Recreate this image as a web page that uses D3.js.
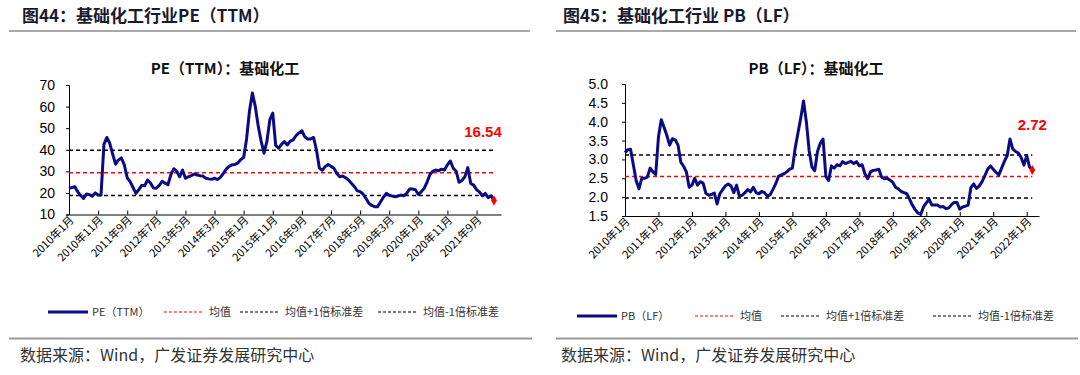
<!DOCTYPE html>
<html>
<head>
<meta charset="utf-8">
<script src="https://cdn.jsdelivr.net/npm/d3@7"></script>
<style>
  body { margin: 0; background: #fff; }
  svg { display: block; font-family: "Liberation Sans", Arial, "Noto Sans CJK SC", sans-serif; }
  .cn { font-family: "Noto Sans CJK SC", sans-serif; }
</style>
</head>
<body>
<svg width="1080" height="375"></svg>
<script>
// monthly values, 2010-01 .. 2022-03
var peValues = [
  22.1, 22.5, 22.9, 20.5, 18.8, 17.4, 19.5, 19.2, 18.5, 20.0,
  19.0, 19.0, 42.5, 45.7, 43.0, 38.0, 33.3, 35.3, 36.2, 33.0,
  27.0, 25.2, 22.5, 19.8, 21.5, 23.5, 23.3, 26.0, 24.6, 22.3,
  22.2, 23.5, 25.4, 24.5, 23.8, 28.5, 31.2, 30.0, 27.5, 30.6,
  26.8, 27.5, 28.0, 28.8, 28.3, 28.0, 27.8, 26.8, 26.5, 26.3,
  26.8, 26.2, 27.2, 29.0, 31.0, 32.3, 33.0, 33.2, 33.8, 35.5,
  36.4, 45.0, 58.0, 66.3, 60.0, 51.0, 44.0, 38.4, 44.0, 54.0,
  57.0, 42.0, 40.7, 42.5, 43.8, 42.2, 44.0, 44.6, 46.6, 47.8,
  48.8, 46.0, 45.0, 45.0, 45.7, 40.0, 31.5, 30.5, 32.2, 33.2,
  32.3, 31.5, 29.0, 27.5, 27.8, 27.0, 26.0, 24.5, 23.0, 21.0,
  20.6, 19.5, 17.5, 15.2, 14.2, 13.6, 13.6, 15.8, 18.0, 19.8,
  18.9, 18.5, 18.2, 18.6, 19.0, 18.7, 19.8, 21.8, 21.8, 21.5,
  19.3, 20.5, 22.1, 25.0, 28.5, 30.1, 30.6, 30.3, 31.0, 30.6,
  33.0, 34.8, 31.4, 30.0, 24.9, 25.8, 27.5, 31.7, 24.4, 23.6,
  21.5, 20.4, 18.7, 19.8, 17.8, 18.6, 16.54
];
var pbValues = [
  3.18, 3.26, 3.27, 2.85, 2.44, 2.22, 2.50, 2.50, 2.53, 2.77,
  2.67, 2.60, 3.60, 4.05, 3.85, 3.64, 3.38, 3.55, 3.52, 3.38,
  2.93, 2.82, 2.67, 2.26, 2.32, 2.50, 2.32, 2.41, 2.37, 2.10,
  2.05, 2.07, 2.11, 1.82, 2.09, 2.20, 2.30, 2.35, 2.30, 2.12,
  2.32, 2.03, 2.05, 2.12, 2.20, 2.14, 2.26, 2.12, 2.09, 2.15,
  2.12, 2.03, 2.06, 2.20, 2.35, 2.55, 2.59, 2.62, 2.67, 2.74,
  2.77, 3.30, 3.70, 4.10, 4.55, 4.00, 3.24, 2.80, 2.70, 3.21,
  3.43, 3.54, 2.55, 2.44, 2.83, 2.77, 2.86, 2.83, 2.94, 2.89,
  2.92, 2.95, 2.89, 2.94, 2.83, 2.86, 2.62, 2.49, 2.67, 2.71,
  2.72, 2.74, 2.53, 2.49, 2.50, 2.45, 2.39, 2.26, 2.22, 2.15,
  2.12, 2.09, 1.95, 1.79, 1.67, 1.58, 1.54, 1.74, 1.85, 1.95,
  1.79, 1.79, 1.79, 1.74, 1.75, 1.70, 1.71, 1.80, 1.86, 1.86,
  1.68, 1.74, 1.76, 1.79, 2.26, 2.35, 2.23, 2.30, 2.41, 2.57,
  2.74, 2.83, 2.74, 2.66, 2.59, 2.77, 2.95, 3.10, 3.54, 3.28,
  3.21, 3.17, 3.05, 2.85, 3.10, 2.80, 2.72
];

// mean -1sd, mean, mean +1sd
var peBands = [18.8, 29.3, 39.8];
var pbBands = [1.98, 2.55, 3.12];

var peYTicks = [10, 20, 30, 40, 50, 60, 70];
var pbYTicks = [1.5, 2.0, 2.5, 3.0, 3.5, 4.0, 4.5, 5.0];

var peTickLabels = ["2010年1月", "2010年11月", "2011年9月", "2012年7月", "2013年5月",
  "2014年3月", "2015年1月", "2015年11月", "2016年9月", "2017年7月", "2018年5月",
  "2019年3月", "2020年1月", "2020年11月", "2021年9月"];
var pbTickLabels = ["2010年1月", "2011年1月", "2012年1月", "2013年1月", "2014年1月",
  "2015年1月", "2016年1月", "2017年1月", "2018年1月", "2019年1月", "2020年1月",
  "2021年1月", "2022年1月"];

var legendLabels = ["均值", "均值+1倍标准差", "均值-1倍标准差"];

var svg = d3.select("svg");

svg.append("rect").attr("width", 1080).attr("height", 375).attr("fill", "#fff");

var drawPanel = function (o) {
  var xScale = d3.scaleLinear().domain([0, 148.4]).range([o.x0, o.x1]);
  var yScale = d3.scaleLinear().domain(o.yDomain).range([o.yB, o.yT]);

  // header + rules
  svg.append("text").attr("class", "cn")
    .attr("x", o.hx).attr("y", 22)
    .attr("font-size", 17).attr("font-weight", "bold").attr("fill", "#1a1a2e")
    .text(o.header);
  svg.append("line").attr("x1", o.rule[0]).attr("x2", o.rule[1])
    .attr("y1", 31).attr("y2", 31).attr("stroke", "#555").attr("stroke-width", 1);
  svg.append("line").attr("x1", o.rule[0]).attr("x2", o.rule[1] + 2)
    .attr("y1", 338.5).attr("y2", 338.5).attr("stroke", "#999").attr("stroke-width", 2);
  svg.append("text").attr("class", "cn")
    .attr("x", o.hx - 2).attr("y", 361)
    .attr("font-size", 16).attr("fill", "#333")
    .text("数据来源：Wind，广发证券发展研究中心");

  // chart title
  svg.append("text").attr("class", "cn")
    .attr("x", o.tx).attr("y", 74).attr("text-anchor", "middle")
    .attr("font-size", 15).attr("font-weight", "bold").attr("fill", "#111")
    .text(o.title);

  // axes
  var yAxis = d3.axisLeft(yScale).tickValues(o.yTicks).tickSize(3).tickPadding(o.yPad)
    .tickFormat(o.yFmt);
  var gy = svg.append("g").attr("transform", "translate(" + o.x0 + ",0)").call(yAxis);
  gy.select(".domain").attr("stroke", "#000");
  gy.selectAll("text").attr("font-size", 14).attr("fill", "#000")
    .attr("font-family", "Liberation Sans, Arial, sans-serif");

  var xAxis = d3.axisBottom(xScale)
    .tickValues(o.xLabels.map(function (d, i) { return i * o.step; }))
    .tickSize(-4)
    .tickSizeOuter(0)
    .tickFormat(function (d, i) { return o.xLabels[i]; });
  var gx = svg.append("g").attr("transform", "translate(0," + o.yB + ")").call(xAxis);
  gx.select(".domain").attr("stroke", "#000");
  gx.selectAll("text")
    .attr("class", "cn")
    .attr("font-size", 11).attr("fill", "#000")
    .attr("text-anchor", "end")
    .attr("dy", 0)
    .attr("transform", "translate(3,4) rotate(-45)");

  // reference lines
  var last = o.values.length - 1;
  var bandColors = ["#000", "#ff0000", "#000"];
  o.bands.forEach(function (b, i) {
    svg.append("line")
      .attr("x1", xScale(0)).attr("x2", xScale(last))
      .attr("y1", yScale(b)).attr("y2", yScale(b))
      .attr("stroke", bandColors[i]).attr("stroke-width", 1.5)
      .attr("stroke-dasharray", "4,3");
  });

  // series
  var line = d3.line()
    .x(function (d, i) { return xScale(i); })
    .y(function (d) { return yScale(d); });
  svg.append("path").datum(o.values)
    .attr("d", line).attr("fill", "none")
    .attr("stroke", "#0a0a85").attr("stroke-width", 3)
    .attr("stroke-linejoin", "round");

  // last point marker + label
  svg.append("path")
    .attr("d", d3.symbol().type(d3.symbolDiamond).size(30))
    .attr("transform", "translate(" + xScale(last) + "," + yScale(o.values[last]) + ")")
    .attr("fill", "#ff0000");
  svg.append("text")
    .attr("x", xScale(last) + o.lblDx).attr("y", o.lblY)
    .attr("text-anchor", "middle")
    .attr("font-size", 15).attr("font-weight", "bold").attr("fill", "#ff0000")
    .text(o.values[last].toFixed(2));

  // legend
  var lg = svg.append("g").attr("transform", "translate(0," + o.legY + ")");
  lg.append("line").attr("x1", o.legX[0]).attr("x2", o.legX[0] + 40)
    .attr("stroke", "#0a0a85").attr("stroke-width", 3);
  lg.append("text").attr("class", "cn").attr("x", o.legX[0] + 44).attr("y", 4)
    .attr("font-size", 11).attr("fill", "#333").text(o.name);
  var legColors = ["#ff0000", "#000", "#000"];
  legendLabels.forEach(function (t, i) {
    var lx = o.legX[i + 1];
    lg.append("line").attr("x1", lx).attr("x2", lx + 40)
      .attr("stroke", legColors[i]).attr("stroke-width", 1.2)
      .attr("stroke-dasharray", "3,2");
    lg.append("text").attr("class", "cn").attr("x", lx + 45).attr("y", 4)
      .attr("font-size", 11).attr("fill", "#333").text(t);
  });
};

drawPanel({
  header: "图44：基础化工行业PE（TTM）", hx: 22, rule: [9, 530],
  title: "PE（TTM）：基础化工", tx: 225,
  x0: 69, x1: 501, yT: 85, yB: 214.5, yDomain: [10, 70],
  yTicks: peYTicks, yFmt: d3.format("d"), yPad: 11,
  xLabels: peTickLabels, step: 10,
  values: peValues, bands: peBands,
  lblDx: -11, lblY: 137,
  name: "PE（TTM）", legY: 312, legX: [48, 164, 240, 378]
});

drawPanel({
  header: "图45：基础化工行业 PB（LF）", hx: 563, rule: [556, 1076],
  title: "PB（LF）：基础化工", tx: 816,
  x0: 625, x1: 1039, yT: 84, yB: 216, yDomain: [1.5, 5.0],
  yTicks: pbYTicks, yFmt: d3.format(".1f"), yPad: 14,
  xLabels: pbTickLabels, step: 12,
  values: pbValues, bands: pbBands,
  lblDx: 0, lblY: 130,
  name: "PB（LF）", legY: 316, legX: [577, 695, 781, 933]
});
</script>
</body>
</html>
